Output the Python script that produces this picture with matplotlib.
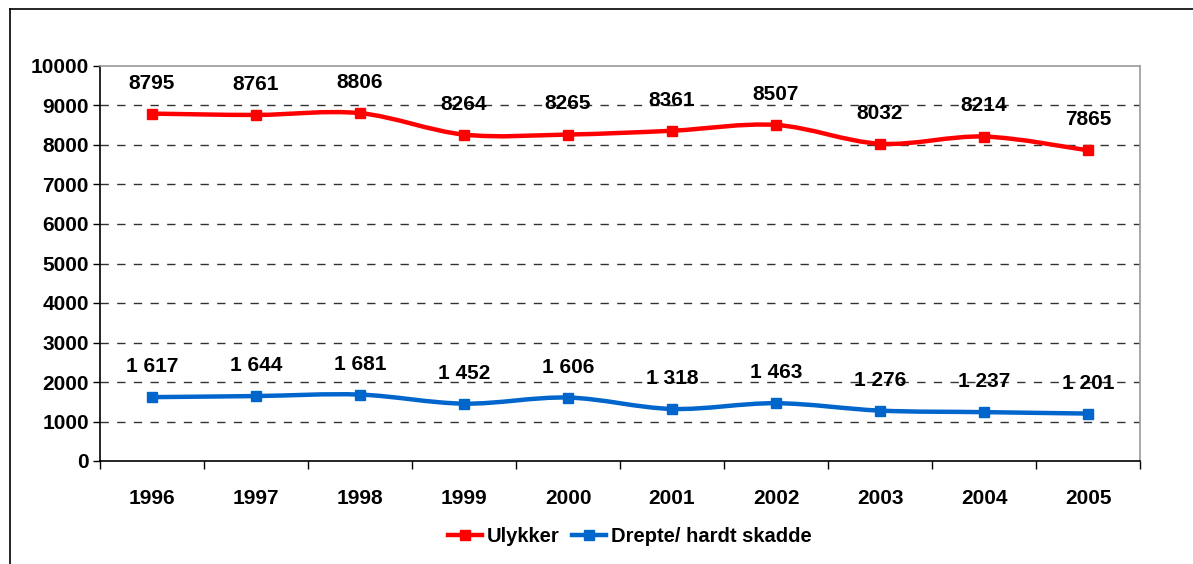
import matplotlib
matplotlib.use("Agg")
import matplotlib.pyplot as plt
import numpy as np
from matplotlib.path import Path
from matplotlib.patches import PathPatch
from matplotlib.lines import Line2D

years = ["1996", "1997", "1998", "1999", "2000", "2001", "2002", "2003", "2004", "2005"]
ulykker = [8795, 8761, 8806, 8264, 8265, 8361, 8507, 8032, 8214, 7865]
drepte = [1617, 1644, 1681, 1452, 1606, 1318, 1463, 1276, 1237, 1201]
ulykker_labels = ["8795", "8761", "8806", "8264", "8265", "8361", "8507", "8032", "8214", "7865"]
drepte_labels = ["1 617", "1 644", "1 681", "1 452", "1 606", "1 318", "1 463", "1 276", "1 237", "1 201"]

plt.rcParams["font.family"] = ["Liberation Sans", "DejaVu Sans"]
plt.rcParams["font.weight"] = "bold"


def smooth_path(xs, ys):
    # bezier segments with catmull-rom style control points (like Excel smoothing)
    pts = np.column_stack([xs, ys]).astype(float)
    n = len(pts)
    verts = [pts[0]]
    codes = [Path.MOVETO]
    for i in range(n - 1):
        p0 = pts[i - 1] if i > 0 else pts[i]
        p1 = pts[i]
        p2 = pts[i + 1]
        p3 = pts[i + 2] if i + 2 < n else pts[i + 1]
        c1 = p1 + (p2 - p0) / 6.0
        c2 = p2 - (p3 - p1) / 6.0
        verts += [c1, c2, p2]
        codes += [Path.CURVE4] * 3
    return Path(verts, codes)


fig = plt.figure(figsize=(11.93, 5.64), dpi=100)
ax = fig.add_axes([100 / 1193, 103 / 564, 1040 / 1193, 395 / 564])

x = np.arange(len(years))
series = [(ulykker, ulykker_labels, "#FF0000", "Ulykker"),
          (drepte, drepte_labels, "#0066CC", "Drepte/ hardt skadde")]

handles = []
for vals, labs, col, name in series:
    ax.add_patch(PathPatch(smooth_path(x, vals), facecolor="none", edgecolor=col,
                           lw=3.2, capstyle="round", joinstyle="round", zorder=3))
    ax.plot(x, vals, ls="none", marker="s", ms=7, color=col, zorder=4)
    handles.append(Line2D([], [], color=col, lw=3.2, marker="s", ms=7, label=name))
    for xi, v, t in zip(x, vals, labs):
        ax.annotate(t, (xi, v), xytext=(0, 22), textcoords="offset points",
                    ha="center", va="center", fontsize=15, fontweight="bold", zorder=5)

ax.set_xlim(-0.5, len(years) - 0.5)
ax.set_ylim(0, 10000)
ax.set_yticks(np.arange(0, 10001, 1000))
ax.tick_params(axis="y", labelsize=15, length=5, width=1, direction="out", pad=3)
ax.set_xticks(x)
ax.set_xticklabels(years)
ax.set_xticks(np.arange(-0.5, len(years), 1), minor=True)
ax.tick_params(axis="x", which="major", length=0, labelsize=15, pad=20)
ax.tick_params(axis="x", which="minor", length=6, width=1, direction="out")

for yv in range(1000, 10000, 1000):
    ax.axhline(yv, color="#333333", lw=1, ls=(0, (6, 6)), zorder=1)

ax.spines["left"].set_color("black")
ax.spines["bottom"].set_color("black")
ax.spines["left"].set_linewidth(1.2)
ax.spines["bottom"].set_linewidth(1.2)
ax.spines["top"].set_color("#999999")
ax.spines["right"].set_color("#999999")
ax.spines["top"].set_linewidth(1.2)
ax.spines["right"].set_linewidth(1.2)

fig.legend(handles=handles, loc="center", bbox_to_anchor=(630 / 1193, 1 - 537 / 564),
           ncol=2, frameon=False, fontsize=14.5, handlelength=1.7, handletextpad=0.25,
           columnspacing=0.6)

# outer frame (cut off at right and bottom)
fig.add_artist(Line2D([9.5 / 1193, 9.5 / 1193], [0, 1 - 8.5 / 564], color="black", lw=1.2,
                      transform=fig.transFigure))
fig.add_artist(Line2D([9.5 / 1193, 1], [1 - 8.5 / 564, 1 - 8.5 / 564], color="black", lw=1.2,
                      transform=fig.transFigure))

fig.savefig("out.png", dpi=100)
